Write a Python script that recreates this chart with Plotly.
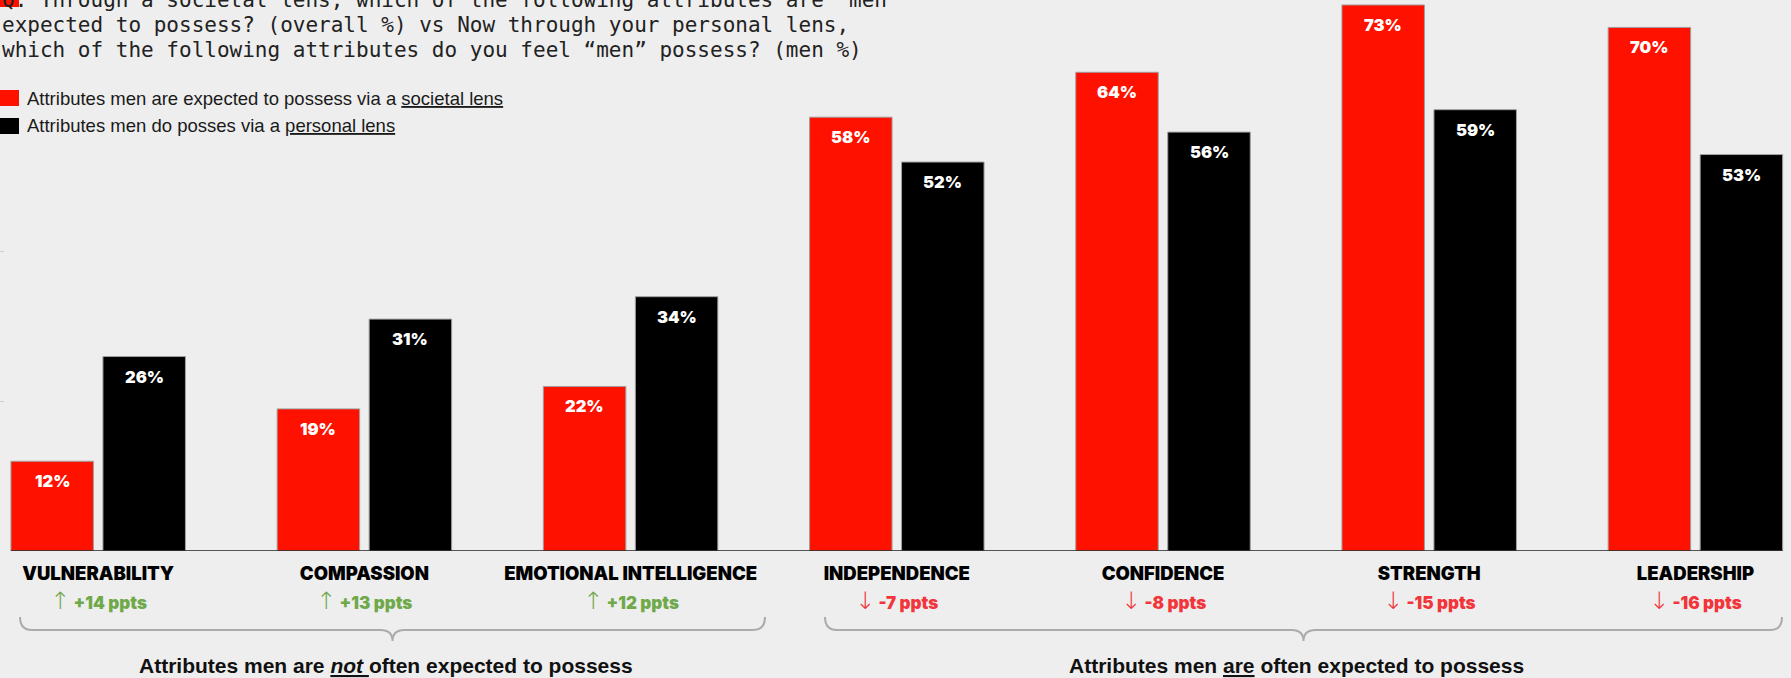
import plotly.graph_objects as go

# ---------------- data ----------------
categories = ["VULNERABILITY", "COMPASSION", "EMOTIONAL INTELLIGENCE",
              "INDEPENDENCE", "CONFIDENCE", "STRENGTH", "LEADERSHIP"]
societal = [12, 19, 22, 58, 64, 73, 70]
personal = [26, 31, 34, 52, 56, 59, 53]
ppts_change = [14, 13, 12, -7, -8, -15, -16]
series_names = ["Attributes men are expected to possess via a <u>societal lens</u>",
                "Attributes men do posses via a <u>personal lens</u>"]
group_titles = ["Attributes men are <i><u>not </u></i>often expected to possess",
                "Attributes men <u>are</u> often expected to possess"]
title_lines = ["Q. Through a societal lens, which of the following attributes are \u201cmen",
               "expected to possess? (overall %) vs Now through your personal lens,",
               "which of the following attributes do you feel \u201cmen\u201d possess? (men %)"]

# ---------------- style ----------------
W, H = 1791, 678
PLOT_H = 551          # pixel of baseline from top
X0PIX, BAND = 98.2, 266.2
BG = "#eeeeee"
RED = "#ff1100"
BLACK = "#000000"
GREEN = "#6fa94a"
RED_TXT = "#f2353a"
BAR_W = 82.5 / BAND
GAP = 9.5 / BAND
YMAX = PLOT_H / 7.48
HEAVY = "Inter, Roboto, sans-serif"


def py(p):  # pixel-from-top -> paper y
    return (PLOT_H - p) / PLOT_H


def px(p):  # pixel-from-left -> x data
    return (p - X0PIX) / BAND


xpos = list(range(len(categories)))
fig = go.Figure()
fig.add_trace(go.Bar(x=xpos, y=societal, name=series_names[0], width=BAR_W,
                     offset=-BAR_W - GAP / 2, marker=dict(color=RED, line=dict(color="#a0a0a0", width=1)),
                     showlegend=False))
fig.add_trace(go.Bar(x=xpos, y=personal, name=series_names[1], width=BAR_W,
                     offset=GAP / 2, marker=dict(color=BLACK, line=dict(color="#a0a0a0", width=1)),
                     showlegend=False))

ann = []
shapes = []
lab_font = dict(family=HEAVY, size=16.5, color="white", weight=900)
for i, (s, p) in enumerate(zip(societal, personal)):
    for val, sgn in ((s, -1), (p, 1)):
        ann.append(dict(x=i + sgn * (BAR_W + GAP) / 2, y=val, xref="x", yref="y",
                        text=f"{val}%", showarrow=False, yanchor="top", yshift=-8,
                        font=lab_font))
    d = ppts_change[i]
    arrow = "\u2191" if d > 0 else "\u2193"
    col = GREEN if d > 0 else RED_TXT
    ann.append(dict(x=i, y=py(601), xref="x", yref="paper", showarrow=False,
                    text=f"<span style='font-size:24px;font-weight:300;font-family:DejaVu Sans'>{arrow}</span> {'+' if d > 0 else '-'}{abs(d)} ppts",
                    font=dict(family=HEAVY, size=17, color=col, weight=900),
                    yanchor="middle"))

# baseline
shapes.append(dict(type="line", xref="x", yref="y", x0=-BAR_W - GAP / 2, x1=len(categories) - 1 + BAR_W + GAP / 2,
                   y0=0, y1=0, line=dict(color="#222222", width=1.5), layer="above"))


# braces
def brace(x0p, x1p, top, mid, tip):
    r = 12
    xc = (x0p + x1p) / 2
    pts = (f"M {px(x0p)},{py(top)} Q {px(x0p)},{py(mid)} {px(x0p + r)},{py(mid)} "
           f"L {px(xc - r)},{py(mid)} Q {px(xc)},{py(mid)} {px(xc)},{py(tip)} "
           f"Q {px(xc)},{py(mid)} {px(xc + r)},{py(mid)} "
           f"L {px(x1p - r)},{py(mid)} Q {px(x1p)},{py(mid)} {px(x1p)},{py(top)}")
    return dict(type="path", xref="x", yref="paper", path=pts,
                line=dict(color="#ababab", width=2))


brace_px = [(20, 765), (825, 1782)]
for (a, b), t in zip(brace_px, group_titles):
    shapes.append(brace(a, b, 617, 630, 641))
    ann.append(dict(x=px((a + b) / 2 - 7), y=py(665), xref="x", yref="paper", showarrow=False,
                    text=t, yanchor="middle",
                    font=dict(family="Liberation Sans, Arial, sans-serif", size=21, color="#111", weight=700)))

# legend (manual)
leg_y = [98, 126]
for name, col, yy in zip(series_names, [RED, BLACK], leg_y):
    shapes.append(dict(type="rect", xref="paper", yref="paper", x0=0, x1=19 / W,
                       y0=py(yy + 8), y1=py(yy - 8), fillcolor=col, line=dict(width=0)))
    ann.append(dict(x=25 / W, y=py(yy), xref="paper", yref="paper", xanchor="left", yanchor="middle",
                    showarrow=False, text=name,
                    font=dict(family="Liberation Sans, Arial, sans-serif", size=18.5, color="#1a1a1a")))

# title
shapes.append(dict(type="rect", xref="paper", yref="paper", x0=0, x1=19 / W, y0=py(7), y1=py(-12),
                   fillcolor=RED, line=dict(width=0)))
for k, line in enumerate(title_lines):
    ann.append(dict(x=0, y=py(k * 25), xref="paper", yref="paper", xanchor="left", yanchor="middle",
                    showarrow=False, text=line,
                    font=dict(family="DejaVu Sans Mono, Liberation Mono, monospace", size=21, color="#222")))

fig.update_layout(
    width=W, height=H, autosize=False,
    margin=dict(l=0, r=0, t=0, b=H - PLOT_H, pad=0),
    paper_bgcolor=BG, plot_bgcolor=BG,
    barmode="overlay",
    annotations=ann, shapes=shapes,
    xaxis=dict(range=[px(0), px(W)], tickvals=xpos, ticktext=categories, showgrid=False,
               zeroline=False, showline=False, ticks="", ticklabelstandoff=9,
               tickfont=dict(family=HEAVY, size=18.5, color="#000", weight=900)),
    yaxis=dict(range=[0, YMAX], showgrid=False, zeroline=False, showticklabels=False,
               ticks="inside", ticklen=4, tickcolor="#d0d0d0", tickvals=[20, 40]),
)
fig.write_html("out.html", config={"displayModeBar": False},
               post_script="document.body.style.margin='0';document.body.style.background='#eeeeee';")
